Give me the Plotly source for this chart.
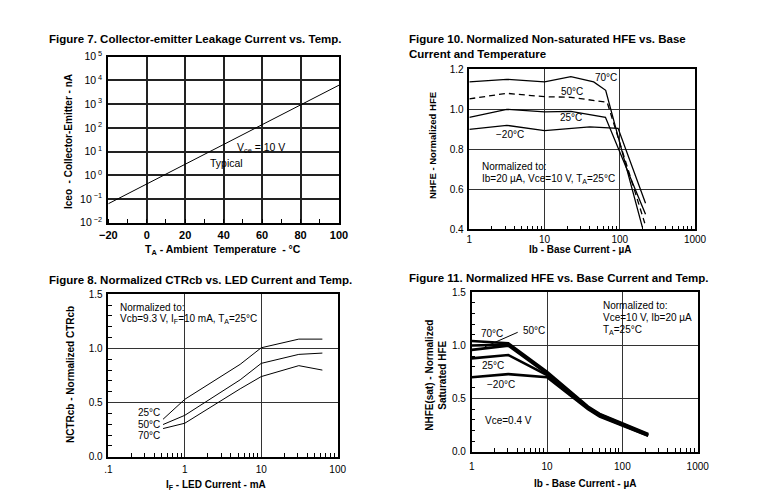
import plotly.graph_objects as go

# the page body has an 8px margin, so the figure is drawn 8px in and sized to fit the window
OFF = 8
W, H = 769 - OFF, 497 - OFF
FONT = "Liberation Sans, Arial, sans-serif"

# ---------------- data ----------------
# Figure 7: leakage current vs temperature
temp_c = [-20, 100]
iceo_na = [0.063, 6300]

# Figure 10: normalized non-saturated HFE
ib10_70 = [1, 3.15, 10, 22.4, 45, 65, 200]
hfe10_70 = [1.137, 1.15, 1.137, 1.163, 1.137, 1.095, 0.41]
ib10_50 = [1, 3.15, 10, 22.4, 68, 215]
hfe10_50 = [1.052, 1.08, 1.063, 1.06, 1.035, 0.43]
ib10_25 = [1, 3.15, 10, 22.4, 64.5, 220]
hfe10_25 = [0.96, 1.0, 0.987, 0.99, 0.96, 0.475]
ib10_m20 = [1, 3.15, 10, 40, 95, 220]
hfe10_m20 = [0.9, 0.92, 0.893, 0.912, 0.905, 0.53]

# Figure 8: normalized CTRcb vs LED current
if8 = [0.52, 1, 5.3, 10, 31, 63]
ctr_25 = [0.346, 0.53, 0.853, 1.006, 1.086, 1.086]
ctr_50 = [0.297, 0.382, 0.71, 0.862, 0.945, 0.957]
ctr_70 = [0.26, 0.309, 0.627, 0.74, 0.841, 0.80]

# Figure 11: normalized saturated HFE
ib11 = [1, 3.06, 10, 25, 35, 50, 100, 150, 220]
sat_70 = [1.042, 1.02, 0.752, 0.516, 0.425, 0.356, 0.266, 0.212, 0.166]
sat_50 = [1.0, 1.008, 0.742, 0.508, 0.418, 0.350, 0.260, 0.207, 0.161]
sat_unl = [0.958, 0.998, 0.735, 0.500, 0.412, 0.344, 0.255, 0.203, 0.157]
sat_25 = [0.878, 0.91, 0.722, 0.492, 0.406, 0.338, 0.250, 0.199, 0.153]
sat_m20 = [0.70, 0.73, 0.70, 0.484, 0.399, 0.331, 0.245, 0.195, 0.149]

# tick labels
f7_xticks = [-20, 0, 20, 40, 60, 80, 100]
f7_yvals = [1e-2, 1e-1, 1, 10, 100, 1e3, 1e4, 1e5]
f7_ytext = ["10<sup> −2</sup>", "10<sup> −1</sup>", "10<sup> 0</sup>", "10<sup> 1</sup>",
            "10<sup> 2</sup>", "10<sup> 3</sup>", "10<sup> 4</sup>", "10<sup> 5</sup>"]
log_vals = [1, 10, 100, 1000]
log_text = ["1", "10", "100", "1000"]
f8_xvals = [0.1, 1, 10, 100]
f8_xtext = [".1", "1", "10", "100"]


def px(x):
    return (x - OFF) / W


def py(y):
    return 1 - (y - OFF) / H


def minor_log(d0, d1):
    out = []
    for d in range(d0, d1):
        for m in range(2, 10):
            out.append(m * 10 ** d)
    return out


fig = go.Figure()
BLK = "black"

# Fig 7
fig.add_trace(go.Scatter(x=temp_c, y=iceo_na, mode="lines", line=dict(color=BLK, width=1),
                         xaxis="x", yaxis="y", showlegend=False))
# Fig 10
fig.add_trace(go.Scatter(x=ib10_70, y=hfe10_70, mode="lines", line=dict(color=BLK, width=1.3),
                         xaxis="x2", yaxis="y2", showlegend=False))
fig.add_trace(go.Scatter(x=ib10_50, y=hfe10_50, mode="lines", line=dict(color=BLK, width=1.3, dash="6px,4px"),
                         xaxis="x2", yaxis="y2", showlegend=False))
fig.add_trace(go.Scatter(x=ib10_25, y=hfe10_25, mode="lines", line=dict(color=BLK, width=1.3),
                         xaxis="x2", yaxis="y2", showlegend=False))
fig.add_trace(go.Scatter(x=ib10_m20, y=hfe10_m20, mode="lines", line=dict(color=BLK, width=1.3),
                         xaxis="x2", yaxis="y2", showlegend=False))
# Fig 8
for ys in (ctr_25, ctr_50, ctr_70):
    fig.add_trace(go.Scatter(x=if8, y=ys, mode="lines", line=dict(color=BLK, width=1),
                             xaxis="x3", yaxis="y3", showlegend=False))
# Fig 11
for ys in (sat_70, sat_50, sat_unl, sat_25, sat_m20):
    fig.add_trace(go.Scatter(x=ib11, y=ys, mode="lines", line=dict(color=BLK, width=2.6),
                             xaxis="x4", yaxis="y4", showlegend=False))

frame = dict(showline=True, mirror=True, linecolor=BLK, linewidth=1.5, showgrid=True,
             gridcolor="#333", gridwidth=1, zeroline=False, ticks="", automargin=False,
             tickfont=dict(size=10, color=BLK, family=FONT), ticklabelstandoff=2)

fig.update_layout(
    width=W, height=H, margin=dict(l=0, r=0, t=0, b=0, autoexpand=False),
    paper_bgcolor="white", plot_bgcolor="white",
    font=dict(family=FONT, color=BLK, size=10),
    xaxis=dict(frame, domain=[px(108.3), px(339)], range=[-20, 100], tickvals=f7_xticks,
               tickfont=dict(size=11, color=BLK, family=FONT, weight="bold"), linewidth=2,
               ticklabelstandoff=1, gridwidth=1.5, gridcolor="#222",
               minor=dict(ticks="inside", ticklen=4, tickcolor=BLK, dtick=10, tick0=-10, showgrid=False),
               anchor="y"),
    yaxis=dict(frame, domain=[py(222.7), py(56.7)], type="log", range=[-2, 5], tickvals=f7_yvals,
               ticktext=f7_ytext, linewidth=2, gridwidth=1.5, gridcolor="#222",
               tickfont=dict(size=10.5, color=BLK, family=FONT), anchor="x"),
    xaxis2=dict(frame, domain=[px(469.3), px(695)], type="log", range=[0, 3], tickvals=log_vals,
                ticktext=log_text, ticklabelstandoff=0,
                minor=dict(ticks="inside", ticklen=4, tickcolor=BLK, tickvals=minor_log(0, 3), showgrid=False),
                anchor="y2"),
    yaxis2=dict(frame, domain=[py(229.3), py(69.3)], range=[0.4, 1.2], dtick=0.2, tickformat=".1f",
                anchor="x2"),
    xaxis3=dict(frame, domain=[px(108.3), px(337.7)], type="log", range=[-1, 2], tickvals=f8_xvals,
                ticktext=f8_xtext, ticklabelstandoff=3,
                minor=dict(ticks="inside", ticklen=4, tickcolor=BLK, tickvals=minor_log(-1, 2), showgrid=False),
                anchor="y3"),
    yaxis3=dict(frame, domain=[py(456.7), py(294.3)], range=[0, 1.5], dtick=0.5, tickformat=".1f",
                minor=dict(ticks="inside", ticklen=4, tickcolor=BLK, dtick=0.1, showgrid=False),
                anchor="x3"),
    xaxis4=dict(frame, domain=[px(471.7), px(697.7)], type="log", range=[0, 3], tickvals=log_vals,
                ticktext=log_text, ticklabelstandoff=5,
                minor=dict(ticks="inside", ticklen=4, tickcolor=BLK, tickvals=minor_log(0, 3), showgrid=False),
                anchor="y4"),
    yaxis4=dict(frame, domain=[py(451.7), py(292.3)], range=[0, 1.5], dtick=0.5, tickformat=".1f",
                minor=dict(ticks="inside", ticklen=4, tickcolor=BLK, dtick=0.1, showgrid=False),
                anchor="x4"),
)

ann = []


def text(s, x, y, size=10, bold=False, xa="left", angle=0, align="left"):
    ann.append(dict(text=s, x=px(x), y=py(y), xref="paper", yref="paper", showarrow=False,
                    xanchor=xa, yanchor="middle", textangle=angle, align=align,
                    font=dict(size=size, color=BLK, family=FONT, weight="bold" if bold else "normal")))


# titles
text("Figure 7. Collector-emitter Leakage Current vs. Temp.", 46.7, 39.3, 11.5, True)
text("Figure 10. Normalized Non-saturated HFE vs. Base<br>Current and Temperature", 406.7, 46.3, 11.5, True)
text("Figure 8. Normalized CTRcb vs. LED Current and Temp.", 46.7, 280, 11.5, True)
text("Figure 11. Normalized HFE vs. Base Current and Temp.", 406.7, 278.3, 11.5, True)

# axis titles
text("Iceo  - Collector-Emitter - nA", 68.3, 141.7, 10, True, "center", -90)
text("T<sub>A</sub> - Ambient  Temperature  - °C", 222.7, 250, 10.5, True, "center")
text("NHFE - Normalized HFE", 432.3, 145.8, 9.5, True, "center", -90)
text("Ib - Base Current - µA", 580, 249, 10, True, "center")
text("NCTRcb - Normalized CTRcb", 70, 374, 10, True, "center", -90)
text("I<sub>F</sub> - LED Current - mA", 216, 485, 10, True, "center")
text("NHFE(sat) - Normalized<br>Saturated HFE", 435.8, 375, 10, True, "center", -90, "center")
text("Ib - Base Current - µA", 585, 483.3, 10, True, "center")

# fig 7 notes
text("V<sub>ce</sub> = 10 V", 235, 147.5, 10.5)
text("Typical", 208.3, 163.3, 10.5)

# fig 10 notes
text("70°C", 592.7, 77.3)
text("50°C", 559.3, 91.7)
text("25°C", 557.7, 117.3)
text("−20°C", 494.3, 134)
text("Normalized to:", 480, 166.7)
text("Ib=20 µA, Vce=10 V, T<sub>A</sub>=25°C", 480, 179)

# fig 8 notes
text("Normalized to:", 117.7, 307.3)
text("Vcb=9.3 V, I<sub>F</sub>=10 mA, T<sub>A</sub>=25°C", 117.7, 318.5)
text("25°C", 136, 412.7)
text("50°C", 136, 424.3)
text("70°C", 136, 435.7)

# fig 11 notes
text("70°C", 479.3, 333.3)
text("50°C", 520.7, 330.3)
text("25°C", 480, 365)
text("−20°C", 485, 384.3)
text("Normalized to:", 601, 305.7)
text("Vce=10 V, Ib=20 µA", 601, 317.3)
text("T<sub>A</sub>=25°C", 601, 330)
text("Vce=0.4 V", 483.3, 420.3)

fig.update_layout(annotations=ann)
fig.add_shape(type="line", xref="paper", yref="paper", x0=px(517.7), y0=py(332.3), x1=px(485), y1=py(346.7),
              line=dict(color=BLK, width=1))

fig.write_html("out.html")
